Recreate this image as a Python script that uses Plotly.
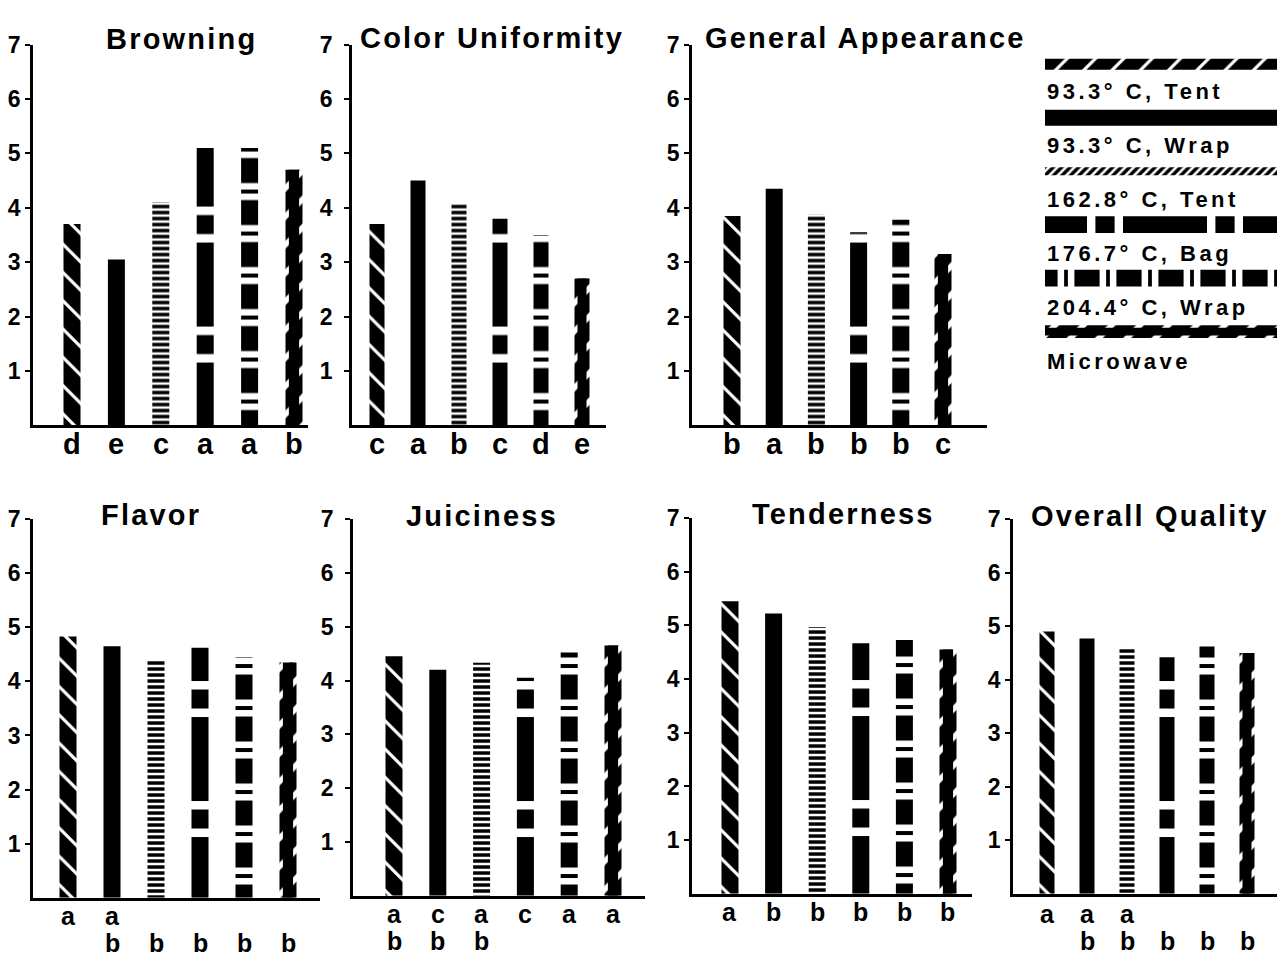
import plotly.graph_objects as go

W, H = 1286, 957
FONT = "Liberation Sans"

# ---- data -------------------------------------------------------------
treatments = ["93.3° C, Tent", "93.3° C, Wrap", "162.8° C, Tent",
              "176.7° C, Bag", "204.4° C, Wrap", "Microwave"]

attributes = ["Browning", "Color Uniformity", "General Appearance",
              "Flavor", "Juiciness", "Tenderness", "Overall Quality"]

browning = [3.7, 3.05, 4.1, 5.1, 5.1, 4.7]
color_uniformity = [3.7, 4.5, 4.07, 3.8, 3.5, 2.7]
general_appearance = [3.85, 4.35, 3.87, 3.55, 3.78, 3.15]
flavor = [4.83, 4.65, 4.4, 4.62, 4.45, 4.35]
juiciness = [4.45, 4.2, 4.33, 4.05, 4.52, 4.65]
tenderness = [5.45, 5.22, 4.97, 4.67, 4.73, 4.55]
overall_quality = [4.9, 4.77, 4.6, 4.42, 4.62, 4.5]

# mean-separation letters: upper row, lower row
browning_sig = (["d", "e", "c", "a", "a", "b"], ["", "", "", "", "", ""])
color_uniformity_sig = (["c", "a", "b", "c", "d", "e"], ["", "", "", "", "", ""])
general_appearance_sig = (["b", "a", "b", "b", "b", "c"], ["", "", "", "", "", ""])
flavor_sig = (["a", "a", "", "", "", ""], ["", "b", "b", "b", "b", "b"])
juiciness_sig = (["a", "c", "a", "c", "a", "a"], ["b", "b", "b", "", "", ""])
tenderness_sig = (["a", "b", "b", "b", "b", "b"], ["", "", "", "", "", ""])
overall_quality_sig = (["a", "a", "a", "", "", ""], ["", "b", "b", "b", "b", "b"])

panel_values = [browning, color_uniformity, general_appearance, flavor,
                juiciness, tenderness, overall_quality]
panel_sig = [browning_sig, color_uniformity_sig, general_appearance_sig,
             flavor_sig, juiciness_sig, tenderness_sig, overall_quality_sig]

y_ticks = [1, 2, 3, 4, 5, 6, 7]

# ---- panel geometry (pixels) -------------------------------------------
# L/R: x-axis extent, top/base: y=7 and y=0, c0/c5: first/last bar centre,
# bw: bar width, tx/ty: title centre, fs: letter size, r1/r2: letter rows,
# sd: extra gap between tick labels and axis
geom = [
    dict(L=33, R=308, top=32, base=418, c0=72, c5=294, bw=17, tx=181, ty=26, fs=29, r1=19, r2=46, sd=0),
    dict(L=352, R=606, top=32, base=418, c0=377, c5=582, bw=15, tx=492, ty=25, fs=29, r1=19, r2=46, sd=7),
    dict(L=692, R=987, top=32, base=418, c0=732, c5=943, bw=17, tx=865, ty=25, fs=29, r1=19, r2=46, sd=0),
    dict(L=33, R=320, top=513, base=897, c0=68, c5=288, bw=17, tx=151, ty=509, fs=25, r1=18, r2=46, sd=0),
    dict(L=353, R=645, top=513, base=895, c0=394, c5=613, bw=17, tx=482, ty=510, fs=25, r1=18, r2=46, sd=7),
    dict(L=692, R=972, top=512, base=893, c0=730, c5=948, bw=17, tx=843, ty=508, fs=25, r1=18, r2=46, sd=0),
    dict(L=1013, R=1277, top=513, base=893, c0=1047, c5=1247, bw=15, tx=1150, ty=510, fs=25, r1=20, r2=48, sd=0),
]

BLACK, WHITE, CLEAR = "black", "white", "rgba(0,0,0,0)"


def pat(shape, fg, bg, size, sol):
    return dict(color=bg, line=dict(width=0),
                pattern=dict(shape=shape, fgcolor=fg, bgcolor=bg, size=size,
                             solidity=sol, fillmode="replace"))


def solid():
    return dict(color=BLACK, line=dict(width=0))


def layers(k, horizontal=False):
    """Fill layers (relative width, marker) for treatment k."""
    ln = "|" if horizontal else "-"
    if k == 0:   # 93.3 C tent: black with white diagonal cuts
        return [(1.0, pat("/" if horizontal else "\\", WHITE, BLACK, 20, 0.16))]
    if k == 1:   # 93.3 C wrap: solid
        return [(1.0, solid())]
    if k == 2:   # 162.8 C tent: fine stripes
        return [(1.0, pat("/" if horizontal else ln, WHITE, BLACK, 6, 0.42))]
    if k == 3:   # 176.7 C bag: long dash, short dash
        return [(1.0, pat(ln, WHITE, BLACK, 120, 0.3)),
                (1.0, pat(ln, BLACK, CLEAR, 120, 0.16))]
    if k == 4:   # 204.4 C wrap: dash, thin line
        return [(1.0, pat(ln, WHITE, BLACK, 42, 0.4)),
                (1.0, pat(ln, BLACK, CLEAR, 42, 0.09))]
    # microwave: notched edges around a solid core
    return [(1.0, pat("/", WHITE, BLACK, 20, 0.28)), (0.6, solid())]


def spaced(text, px):
    return f'<span style="letter-spacing:{px}px">{text}</span>'


fig = go.Figure()
layout = dict(width=W, height=H, margin=dict(l=0, r=0, t=0, b=0),
              paper_bgcolor="white", plot_bgcolor="white",
              barmode="overlay", showlegend=False)
annotations = []

for p, g in enumerate(geom):
    n = p + 1
    xs = "x" if n == 1 else f"x{n}"
    ys = "y" if n == 1 else f"y{n}"
    xk = "xaxis" if n == 1 else f"xaxis{n}"
    yk = "yaxis" if n == 1 else f"yaxis{n}"
    step = (g["c5"] - g["c0"]) / 5
    bw = g["bw"] / step
    layout[xk] = dict(domain=[g["L"] / W, g["R"] / W],
                      range=[(g["L"] - g["c0"]) / step, (g["R"] - g["c0"]) / step],
                      anchor=ys, showline=True, linecolor=BLACK, linewidth=2.5,
                      showgrid=False, zeroline=False, ticks="", showticklabels=False,
                      fixedrange=True)
    layout[yk] = dict(domain=[1 - g["base"] / H, 1 - g["top"] / H], range=[0, 7],
                      anchor=xs, showline=True, linecolor=BLACK, linewidth=2.5,
                      showgrid=False, zeroline=False, tickvals=y_ticks,
                      ticks="outside", ticklen=5, tickwidth=2, tickcolor=BLACK,
                      ticklabelstandoff=g["sd"],
                      tickfont=dict(family=FONT, size=23, color=BLACK, weight="bold"),
                      fixedrange=True)
    vals = panel_values[p]
    for k in range(6):
        for wf, mk in layers(k):
            fig.add_trace(go.Bar(x=[k], y=[vals[k]], width=bw * wf, marker=mk,
                                 xaxis=xs, yaxis=ys, hoverinfo="skip"))
    # title
    annotations.append(dict(text=spaced(attributes[p], 2.2), xref="paper", yref="paper",
                            x=g["tx"] / W, y=1 - g["ty"] / H, xanchor="center",
                            yanchor="middle", showarrow=False,
                            font=dict(family=FONT, size=29, color=BLACK, weight="bold")))
    # significance letters
    upper, lower = panel_sig[p]
    for k in range(6):
        for off, letters in ((g["r1"], upper), (g["r2"], lower)):
            if letters[k]:
                annotations.append(dict(text=letters[k], xref=xs, yref="paper",
                                        x=k, y=1 - (g["base"] + off) / H,
                                        xanchor="center", yanchor="middle",
                                        showarrow=False, borderpad=0,
                                        font=dict(family=FONT, size=g["fs"],
                                                  color=BLACK, weight="bold")))

# ---- key: horizontal swatches with labels beneath -----------------------
key_heights = [11, 16, 8, 17, 17, 13]
key_top, key_bottom, key_pitch, key_first = 40, 345, 54.2, 52
layout["xaxis8"] = dict(domain=[1045 / W, 1277 / W], range=[0, 1], anchor="y8",
                        visible=False, fixedrange=True)
layout["yaxis8"] = dict(domain=[1 - key_bottom / H, 1 - key_top / H],
                        range=[(key_bottom - key_first) / key_pitch,
                               (key_top - key_first) / key_pitch],
                        anchor="x8", visible=False, fixedrange=True)
for k, name in enumerate(treatments):
    hk = key_heights[k] / key_pitch
    for wf, mk in layers(k, horizontal=True):
        fig.add_trace(go.Bar(x=[1], y=[k], base=0, orientation="h", width=hk * wf,
                             marker=mk, xaxis="x8", yaxis="y8", hoverinfo="skip"))
    annotations.append(dict(text=spaced(name, 3.5), xref="paper", yref="paper",
                            x=1045 / W, y=1 - (80 + 54.6 * k) / H, xanchor="left",
                            yanchor="middle", showarrow=False,
                            font=dict(family=FONT, size=22, color=BLACK, weight="bold")))

layout["annotations"] = annotations
fig.update_layout(**layout)
fig.write_html("out.html")
